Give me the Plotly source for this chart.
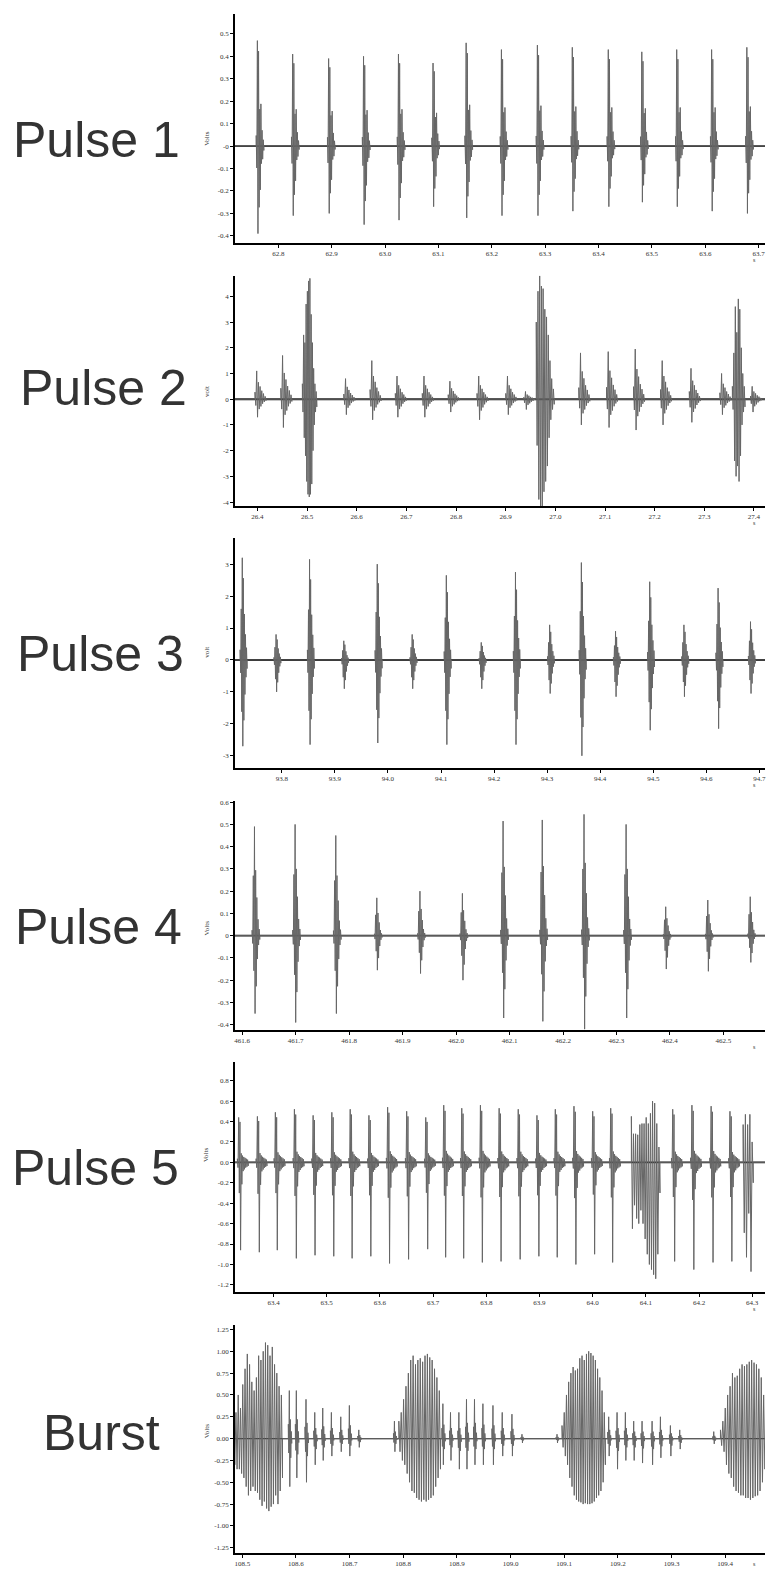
import numpy as np
import plotly.graph_objects as go

# ---------------- data ----------------
PANEL_LABELS = ["Pulse 1", "Pulse 2", "Pulse 3", "Pulse 4", "Pulse 5", "Burst"]
Y_TITLES = ["Volts", "volt", "volt", "Volts", "Volts", "Volts"]

# Pulse 1
P1_T = [62.7609, 62.827, 62.8944, 62.9598, 63.0252, 63.09, 63.152, 63.2181,
        63.2855, 63.3509, 63.4183, 63.4811, 63.5465, 63.6119, 63.6779]
P1_POS = [0.47, 0.41, 0.39, 0.40, 0.41, 0.37, 0.46, 0.43, 0.45, 0.44, 0.43, 0.42, 0.43, 0.43, 0.44]
P1_NEG = [-0.39, -0.31, -0.30, -0.35, -0.33, -0.27, -0.32, -0.31, -0.31, -0.29, -0.27, -0.25, -0.27, -0.29, -0.30]
P1_SHAPE = [0.1, -0.25, 1.0, -1.0, 0.9, -0.7, 0.35, -0.5, 0.4, -0.2, 0.15, -0.15, 0.06, -0.05]

# Pulse 2
P2_T = [26.3986, 26.4507, 26.5775, 26.6304, 26.6812, 26.7355, 26.7877, 26.8457, 26.9036,
        26.9399, 27.0507, 27.1065, 27.1609, 27.2152, 27.2732, 27.3348, 27.3964]
P2_POS = [1.1, 1.7, 0.8, 1.5, 0.9, 0.9, 0.7, 0.9, 0.9, 0.3, 1.8, 1.85, 1.95, 1.5, 1.2, 1.0, 0.5]
P2_NEG = [-0.7, -1.1, -0.6, -0.8, -0.7, -0.7, -0.5, -0.8, -0.6, -0.4, -1.0, -1.1, -1.2, -1.0, -0.9, -0.6, -0.5]
P2_SHAPE = [0.25, -0.35, 1.0, -1.0, 0.6, -0.55, 0.45, -0.4, 0.3, -0.25, 0.2, -0.15, 0.1, -0.08]
P2_BURST_START = [26.4906, 26.9616, 27.3565]
P2_BURST_END = [26.5196, 26.9978, 27.3819]
P2_BURST_POS = [[0.6, 2.5, 2.2, 3.7, 4.2, 4.6, 4.7, 3.3, 2.2, 1.2, 0.6, 0.3],
                [3.0, 4.2, 4.8, 4.4, 4.3, 3.5, 3.2, 2.5, 1.5, 0.8, 0.4],
                [0.5, 1.8, 3.6, 2.6, 3.9, 3.5, 2.0, 1.0, 0.5]]
P2_BURST_NEG = [[-0.5, -1.5, -2.2, -3.2, -3.7, -3.8, -3.7, -3.3, -2.0, -1.0, -0.5, -0.3],
                [-1.8, -3.9, -4.4, -4.2, -3.6, -3.2, -2.6, -1.5, -0.8, -0.4, -0.2],
                [-0.4, -2.4, -3.0, -2.6, -3.2, -2.2, -1.0, -0.5, -0.3]]

# Pulse 3
P3_T = [93.7254, 93.7891, 93.8522, 93.9167, 93.9798, 94.0456, 94.11, 94.1758,
        94.2403, 94.3047, 94.3645, 94.4289, 94.4933, 94.5578, 94.6222, 94.6833]
P3_POS = [3.2, 0.8, 3.15, 0.6, 3.0, 0.8, 2.65, 0.55, 2.75, 1.1, 3.05, 0.9, 2.45, 1.1, 2.25, 1.2]
P3_NEG = [-2.7, -1.0, -2.65, -0.9, -2.6, -0.9, -2.65, -0.9, -2.65, -1.05, -3.0, -1.15, -2.2, -1.15, -2.15, -1.05]
P3_SHAPE = [0.1, -0.15, 0.5, -0.6, 1.0, -1.0, 0.8, -0.7, 0.45, -0.4, 0.25, -0.2, 0.12, -0.1]

# Pulse 4
P4_T = [461.6229, 461.6989, 461.775, 461.8517, 461.9324, 462.0118, 462.0879,
        462.1612, 462.2393, 462.318, 462.3921, 462.4708, 462.5502]
P4_POS = [0.49, 0.50, 0.45, 0.17, 0.20, 0.19, 0.515, 0.52, 0.545, 0.50, 0.13, 0.16, 0.175]
P4_NEG = [-0.35, -0.39, -0.35, -0.155, -0.17, -0.20, -0.37, -0.385, -0.42, -0.37, -0.15, -0.16, -0.12]
P4_SHAPE = [0.05, -0.1, 0.55, -0.45, 1.0, -1.0, 0.6, -0.65, 0.35, -0.3, 0.15, -0.12, 0.06, -0.05]

# Pulse 5
P5_T = [63.3344, 63.3696, 63.4034, 63.4392, 63.4744, 63.5096, 63.5441, 63.5793, 63.6145,
        63.6503, 63.6862, 63.72, 63.7539, 63.789, 63.8242, 63.8601, 63.8953, 63.9298,
        63.9649, 64.0001, 64.034, 64.1506, 64.1867, 64.2228, 64.2582]
P5_POS = [0.44, 0.45, 0.49, 0.52, 0.46, 0.49, 0.52, 0.46, 0.54, 0.50, 0.44, 0.56, 0.53,
          0.56, 0.53, 0.52, 0.46, 0.52, 0.55, 0.50, 0.53, 0.52, 0.56, 0.55, 0.50]
P5_NEG = [-0.86, -0.88, -0.86, -0.94, -0.91, -0.92, -0.94, -0.92, -0.99, -0.95, -0.85, -0.93, -0.94,
          -0.98, -0.97, -0.95, -0.92, -0.93, -1.0, -0.9, -0.98, -0.97, -1.05, -0.98, -0.97]
P5_SHAPE = [0.08, -0.06, 1.0, -0.35, 0.9, -1.0, 0.2, -0.25, 0.15, -0.1, 0.12, -0.08,
            0.1, -0.06, 0.08, -0.05, 0.06, -0.04]
P5_BURST_START = [64.0728, 64.283]
P5_BURST_END = [64.1266, 64.302]
P5_BURST_POS = [[0.45, 0.28, 0.28, 0.27, 0.37, 0.38, 0.38, 0.44, 0.38, 0.48, 0.6, 0.58, 0.38, 0.15],
                [0.37, 0.47, 0.37, 0.47, 0.2]]
P5_BURST_NEG = [[-0.65, -0.42, -0.55, -0.6, -0.47, -0.6, -0.75, -0.9, -1.0, -1.05, -1.1, -1.14, -0.9, -0.3],
                [-0.69, -0.93, -0.5, -1.07, -0.2]]

# Burst
P6_T = [108.5877, 108.6008, 108.6188, 108.6351, 108.65, 108.6661, 108.6836, 108.6996, 108.7172,
        108.7836, 108.8739, 108.8881, 108.9037, 108.9179, 108.9328, 108.9485, 108.9672,
        108.9845, 109.0026, 109.0213, 109.0866, 109.1829, 109.1985, 109.214, 109.2295,
        109.2451, 109.2638, 109.2793, 109.2979, 109.3153, 109.3787]
P6_POS = [0.55, 0.55, 0.45, 0.3, 0.35, 0.3, 0.25, 0.38, 0.1, 0.2, 0.4, 0.3, 0.3, 0.45, 0.45,
          0.4, 0.38, 0.3, 0.28, 0.05, 0.05, 0.25, 0.3, 0.3, 0.2, 0.2, 0.2, 0.25, 0.15, 0.1, 0.08]
P6_NEG = [-0.55, -0.45, -0.5, -0.3, -0.25, -0.2, -0.15, -0.2, -0.1, -0.15, -0.3, -0.25, -0.35,
          -0.35, -0.3, -0.3, -0.3, -0.2, -0.2, -0.05, -0.05, -0.2, -0.35, -0.25, -0.25, -0.28,
          -0.3, -0.22, -0.2, -0.12, -0.06]
P6_SHAPE = [0.3, -0.3, 1.0, -1.0, 0.4, -0.4, 0.15, -0.1]
P6_BURST_START = [108.484, 108.7918, 109.0959, 109.3912]
P6_BURST_END = [108.575, 108.8694, 109.1767, 109.4784]
P6_BURST_POS = [
    [0.15, 0.3, 0.5, 0.35, 0.62, 0.8, 0.97, 0.85, 0.65, 0.55, 0.7, 0.95, 0.9, 1.0, 1.1,
     1.07, 0.95, 1.05, 0.85, 0.75, 0.6, 0.5],
    [0.2, 0.3, 0.45, 0.6, 0.75, 0.9, 0.95, 0.85, 0.9, 0.92, 0.88, 0.95, 0.97, 0.93, 0.9,
     0.8, 0.7, 0.55],
    [0.15, 0.3, 0.5, 0.65, 0.75, 0.82, 0.78, 0.8, 0.92, 0.95, 0.9, 0.97, 1.0, 0.98, 0.95,
     0.9, 0.8, 0.7, 0.55, 0.3],
    [0.1, 0.2, 0.35, 0.5, 0.6, 0.75, 0.7, 0.72, 0.8, 0.85, 0.83, 0.85, 0.88, 0.9, 0.87,
     0.85, 0.8, 0.7, 0.5, 0.3]]
P6_BURST_NEG = [
    [-0.3, -0.35, -0.35, -0.4, -0.45, -0.55, -0.65, -0.6, -0.55, -0.6, -0.62, -0.7, -0.77,
     -0.72, -0.8, -0.83, -0.78, -0.75, -0.65, -0.75, -0.6, -0.45],
    [-0.15, -0.25, -0.3, -0.4, -0.5, -0.6, -0.62, -0.68, -0.7, -0.72, -0.7, -0.72, -0.7,
     -0.68, -0.65, -0.55, -0.45, -0.35],
    [-0.1, -0.2, -0.3, -0.45, -0.55, -0.65, -0.7, -0.72, -0.73, -0.75, -0.74, -0.75, -0.75,
     -0.74, -0.72, -0.68, -0.65, -0.6, -0.5, -0.3],
    [-0.08, -0.15, -0.3, -0.4, -0.45, -0.55, -0.6, -0.62, -0.65, -0.65, -0.68, -0.68, -0.7,
     -0.68, -0.66, -0.65, -0.6, -0.5, -0.35, -0.2]]

# tick labels
X_TICKS = [
    ["62.8", "62.9", "63.0", "63.1", "63.2", "63.3", "63.4", "63.5", "63.6", "63.7"],
    ["26.4", "26.5", "26.6", "26.7", "26.8", "26.9", "27.0", "27.1", "27.2", "27.3", "27.4"],
    ["93.8", "93.9", "94.0", "94.1", "94.2", "94.3", "94.4", "94.5", "94.6", "94.7"],
    ["461.6", "461.7", "461.8", "461.9", "462.0", "462.1", "462.2", "462.3", "462.4", "462.5"],
    ["63.4", "63.5", "63.6", "63.7", "63.8", "63.9", "64.0", "64.1", "64.2", "64.3"],
    ["108.5", "108.6", "108.7", "108.8", "108.9", "109.0", "109.1", "109.2", "109.3", "109.4"],
]
Y_TICK_VALS = [
    [0.5, 0.4, 0.3, 0.2, 0.1, 0.0, -0.1, -0.2, -0.3, -0.4],
    [4, 3, 2, 1, 0, -1, -2, -3, -4],
    [3, 2, 1, 0, -1, -2, -3],
    [0.6, 0.5, 0.4, 0.3, 0.2, 0.1, 0.0, -0.1, -0.2, -0.3, -0.4],
    [0.8, 0.6, 0.4, 0.2, 0.0, -0.2, -0.4, -0.6, -0.8, -1.0, -1.2],
    [1.25, 1.0, 0.75, 0.5, 0.25, 0.0, -0.25, -0.5, -0.75, -1.0, -1.25],
]
Y_TICK_TEXT = [
    ["0.5", "0.4", "0.3", "0.2", "0.1", "-0", "-0.1", "-0.2", "-0.3", "-0.4"],
    ["4", "3", "2", "1", "0", "-1", "-2", "-3", "-4"],
    ["3", "2", "1", "0", "-1", "-2", "-3"],
    ["0.6", "0.5", "0.4", "0.3", "0.2", "0.1", "0", "-0.1", "-0.2", "-0.3", "-0.4"],
    ["0.8", "0.6", "0.4", "0.2", "0.0", "-0.2", "-0.4", "-0.6", "-0.8", "-1.0", "-1.2"],
    ["1.25", "1.00", "0.75", "0.50", "0.25", "0.00", "-0.25", "-0.50", "-0.75", "-1.00", "-1.25"],
]

# ---------------- layout (pixel geometry) ----------------
W, H = 766, 1570
AXIS_X = 235
X_RANGES = [[62.7184, 63.7119], [26.3543, 27.4222], [93.7111, 94.7106],
            [461.5859, 462.5778], [63.3269, 64.3241], [108.4859, 109.4742]]
Y_RANGES = [[-0.433, 0.590], [-4.155, 4.80], [-3.39, 3.82],
            [-0.424, 0.603], [-1.272, 0.983], [-1.314, 1.304]]
PANEL_PX = [(10.7, 240.7), (273.3, 504.0), (536.0, 766.7),
            (800.0, 1029.0), (1061.0, 1291.7), (1324.3, 1553.3)]
LABEL_POS = [(97, 137), (104, 386), (101, 652), (99, 926), (96, 1167), (102, 1433)]
DT = [0.0011, 0.0017, 0.001, 0.0011, 0.0012, 0.0009]
MAIN_IDX = [2, 2, 4, 4, 2, 2]
BASE_W = [1.8, 2.0, 1.8, 1.8, 1.8, 1.4]


def event_segments(times, pos, neg, shape, main_idx, dt):
    segs = []
    for t, p, n in zip(times, pos, neg):
        xs = [t + (k - main_idx) * dt for k in range(len(shape))]
        ys = [r * p if r > 0 else r * abs(n) for r in shape]
        segs.append((xs, ys))
    return segs


def burst_segments(starts, ends, poss, negs):
    segs = []
    for t0, t1, pp, nn in zip(starts, ends, poss, negs):
        vals = []
        for a, b in zip(pp, nn):
            vals += [a, b]
        xs = list(np.linspace(t0, t1, len(vals)))
        segs.append((xs, vals))
    return segs


def assemble(segs, x0, x1):
    segs = sorted(segs, key=lambda s: s[0][0])
    X, Y = [x0], [0.0]
    for xs, ys in segs:
        X += [xs[0]] + xs + [xs[-1]]
        Y += [0.0] + ys + [0.0]
    X.append(x1)
    Y.append(0.0)
    return X, Y


SEGMENTS = [
    event_segments(P1_T, P1_POS, P1_NEG, P1_SHAPE, MAIN_IDX[0], DT[0]),
    event_segments(P2_T, P2_POS, P2_NEG, P2_SHAPE, MAIN_IDX[1], DT[1])
    + burst_segments(P2_BURST_START, P2_BURST_END, P2_BURST_POS, P2_BURST_NEG),
    event_segments(P3_T, P3_POS, P3_NEG, P3_SHAPE, MAIN_IDX[2], DT[2]),
    event_segments(P4_T, P4_POS, P4_NEG, P4_SHAPE, MAIN_IDX[3], DT[3]),
    event_segments(P5_T, P5_POS, P5_NEG, P5_SHAPE, MAIN_IDX[4], DT[4])
    + burst_segments(P5_BURST_START, P5_BURST_END, P5_BURST_POS, P5_BURST_NEG),
    event_segments(P6_T, P6_POS, P6_NEG, P6_SHAPE, MAIN_IDX[5], DT[5])
    + burst_segments(P6_BURST_START, P6_BURST_END, P6_BURST_POS, P6_BURST_NEG),
]

fig = go.Figure()
layout_axes = {}
annotations = []
TICK_FONT = dict(family="Liberation Serif, Times New Roman, serif", size=7, color="#333333")

for i in range(6):
    n = i + 1
    xa = "x" if n == 1 else f"x{n}"
    ya = "y" if n == 1 else f"y{n}"
    x0, x1 = X_RANGES[i]
    wx, wy = assemble(SEGMENTS[i], x0, x1)
    fig.add_trace(go.Scatter(x=[x0, x1], y=[0, 0], xaxis=xa, yaxis=ya, mode="lines",
                             line=dict(color="#1a1a1a", width=BASE_W[i]),
                             hoverinfo="skip", showlegend=False))
    fig.add_trace(go.Scatter(x=wx, y=wy, xaxis=xa, yaxis=ya, mode="lines",
                             line=dict(color="#666666", width=1),
                             hoverinfo="skip", showlegend=False))
    top_px, bot_px = PANEL_PX[i]
    ydom = [1 - bot_px / H, 1 - top_px / H]
    layout_axes["xaxis" if n == 1 else f"xaxis{n}"] = dict(
        domain=[AXIS_X / W, 1], range=X_RANGES[i], anchor=ya,
        showline=True, linecolor="black", linewidth=1.5, mirror=False,
        ticks="outside", ticklen=3, tickwidth=1, tickcolor="black",
        tickvals=[float(v) for v in X_TICKS[i]], ticktext=X_TICKS[i],
        ticklabeloverflow="allow",
        tickfont=TICK_FONT, showgrid=False, zeroline=False, fixedrange=True)
    layout_axes["yaxis" if n == 1 else f"yaxis{n}"] = dict(
        domain=ydom, range=Y_RANGES[i], anchor=xa,
        showline=True, linecolor="black", linewidth=1.5, mirror=False,
        ticks="outside", ticklen=3, tickwidth=1, tickcolor="black",
        tickvals=Y_TICK_VALS[i], ticktext=Y_TICK_TEXT[i],
        ticklabeloverflow="allow",
        tickfont=TICK_FONT, showgrid=False, zeroline=False, fixedrange=True)
    # big left label
    lx, ly = LABEL_POS[i]
    annotations.append(dict(text=PANEL_LABELS[i], xref="paper", yref="paper",
                            x=lx / W, y=1 - ly / H, xanchor="center", yanchor="middle",
                            showarrow=False,
                            font=dict(family="Liberation Sans, Arial, sans-serif", size=50,
                                      color="#333333")))
    # y-axis title
    zero_px = top_px + (Y_RANGES[i][1] / (Y_RANGES[i][1] - Y_RANGES[i][0])) * (bot_px - top_px)
    annotations.append(dict(text=Y_TITLES[i], xref="paper", yref="paper",
                            x=207 / W, y=1 - (zero_px - 8) / H, textangle=-90,
                            xanchor="center", yanchor="middle", showarrow=False,
                            font=dict(family="Liberation Serif, Times New Roman, serif",
                                      size=7, color="#333333")))
    # unit label
    s_px = min(bot_px + 17, H - 6)
    annotations.append(dict(text="s", xref="paper", yref="paper",
                            x=755 / W, y=1 - s_px / H,
                            xanchor="center", yanchor="middle", showarrow=False,
                            font=dict(family="Liberation Serif, Times New Roman, serif",
                                      size=6, color="#333333")))

fig.update_layout(width=W, height=H, margin=dict(l=0, r=0, t=0, b=0),
                  paper_bgcolor="white", plot_bgcolor="white",
                  showlegend=False, annotations=annotations, **layout_axes)

fig.write_html(
    "out.html",
    config={"displayModeBar": False, "staticPlot": True},
    post_script="document.body.style.margin='0';document.body.style.padding='0';"
                "document.documentElement.style.overflow='hidden';",
)
